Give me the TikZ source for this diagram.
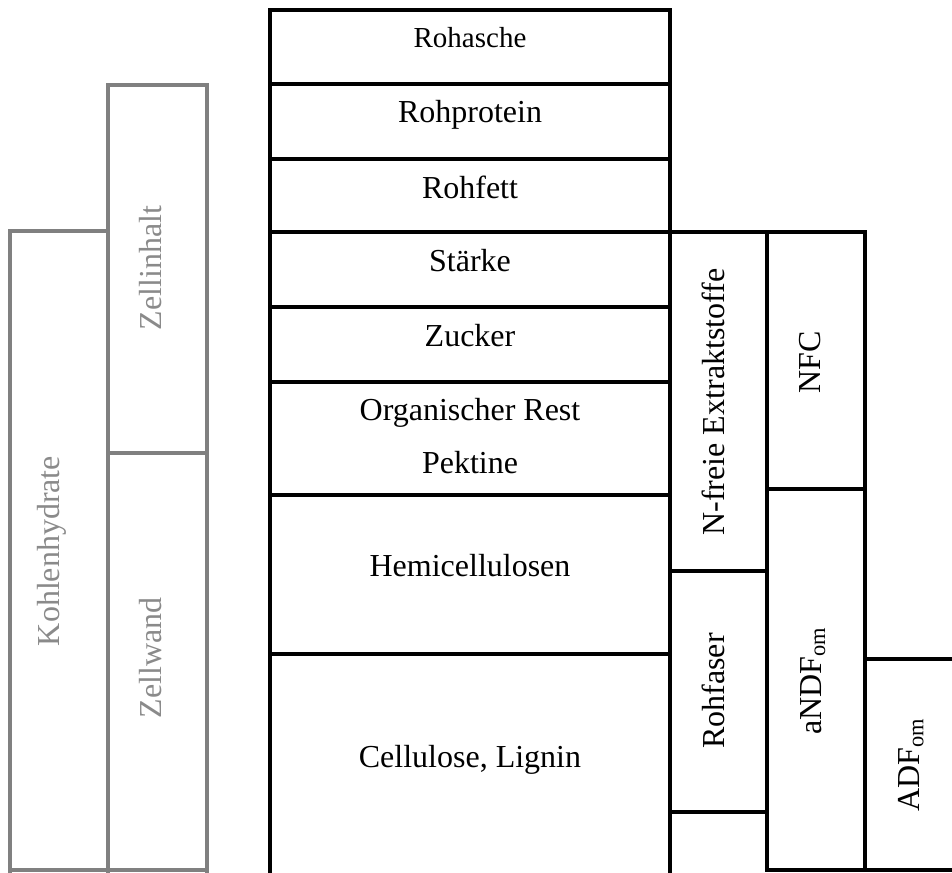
\documentclass[tikz,border=0pt]{standalone}
\usepackage{fontspec}
\setmainfont{Liberation Serif}
\definecolor{boxgray}{HTML}{808080}
\definecolor{textgray}{HTML}{8A8A8A}
\begin{document}
\begin{tikzpicture}[x=1pt,y=-1pt,
  blk/.style={line width=4.5pt,line join=miter,line cap=rect,black},
  gry/.style={line width=4.5pt,line join=miter,line cap=rect,boxgray},
  hlab/.style={anchor=base,inner sep=0pt,font=\fontsize{32}{38}\selectfont},
  vlab/.style={rotate=90,inner sep=0pt,font=\fontsize{32}{38}\selectfont},
  glab/.style={vlab,text=textgray}]
\useasboundingbox (0,0) rectangle (952,872);
\clip (0,0) rectangle (952,872);
% gray columns
\draw[gry] (10,880) -- (10,231) -- (108,231);
\draw[gry] (108,880) -- (108,85) -- (207,85) -- (207,880);
\draw[gry] (108,453) -- (207,453);
\draw[gry] (10,870) -- (207,870);
% main column
\draw[blk] (270,880) -- (270,10) -- (670,10) -- (670,880);
\foreach \y in {84,159,307,382,495,654} \draw[blk] (270,\y) -- (670,\y);
\draw[blk] (270,232) -- (865,232) -- (865,870);
% N-freie / Rohfaser column
\draw[blk] (767,232) -- (767,870);
\draw[blk] (670,571) -- (767,571);
\draw[blk] (670,812) -- (767,812);
% NFC / aNDF column
\draw[blk] (767,489) -- (865,489);
\draw[blk] (767,870) -- (960,870);
% ADF
\draw[blk] (865,659) -- (960,659);
% horizontal labels
\node[hlab,font=\fontsize{29}{34}\selectfont] (rohasche) at (470,48) {Rohasche};
\node[hlab] (rohprotein) at (470,123) {Rohprotein};
\node[hlab] (rohfett) at (470,198) {Rohfett};
\node[hlab] (staerke) at (470,271) {Stärke};
\node[hlab] (zucker) at (470,346) {Zucker};
\node[hlab] (orgrest) at (470,420) {Organischer Rest};
\node[hlab] (pektine) at (470,473) {Pektine};
\node[hlab] (hemi) at (470,576) {Hemicellulosen};
\node[hlab] (cell) at (470,767) {Cellulose, Lignin};
% vertical labels
\node[glab] (kohlen) at (52,551) {Kohlenhydrate};
\node[glab] (zellinhalt) at (151,268) {Zellinhalt};
\node[glab] (zellwand) at (151,658) {Zellwand};
\node[vlab] (nfreie) at (713,402) {N-freie Extraktstoffe};
\node[vlab] (nfc) at (810,362) {NFC};
\node[vlab] (rohfaser) at (713,691) {Rohfaser};
\node[vlab] (andf) at (813,681) {aNDF\textsubscript{om}};
\node[vlab] (adf) at (911,765) {ADF\textsubscript{om}};
\end{tikzpicture}
\end{document}
